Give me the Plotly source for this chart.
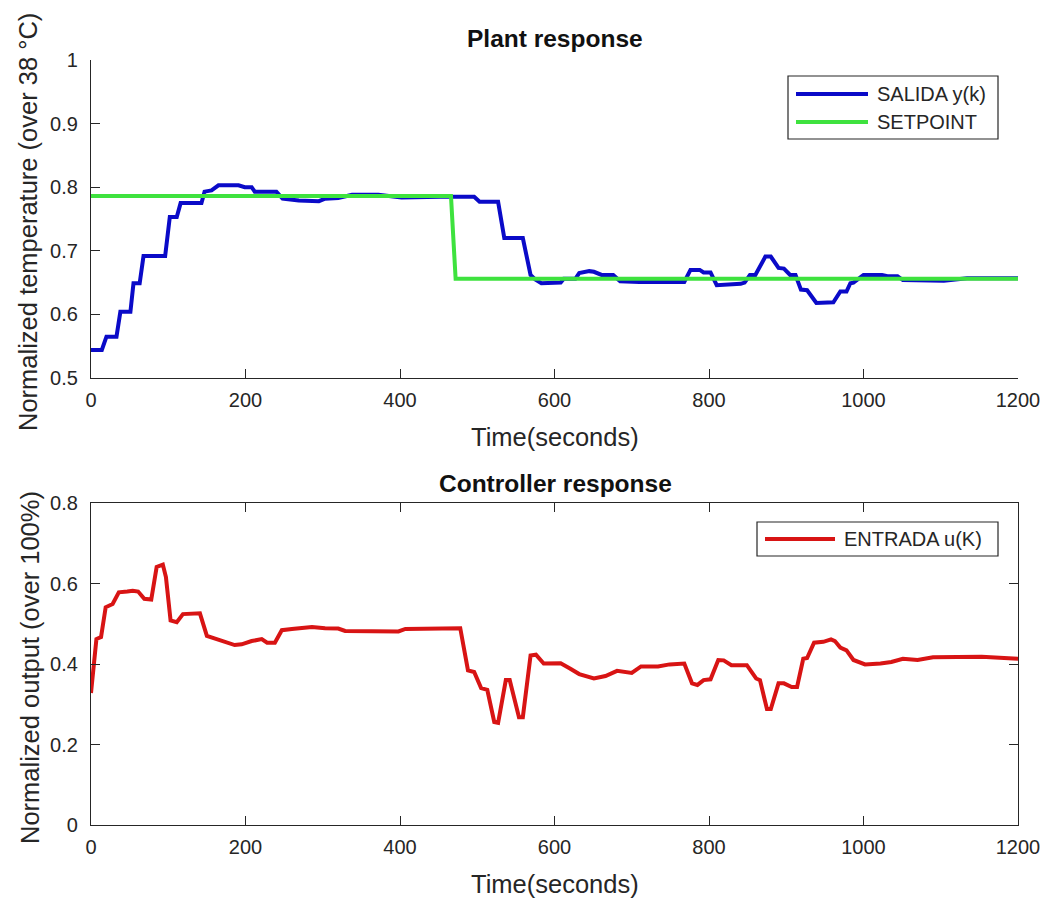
import plotly.graph_objects as go

# ---------------- data ----------------
t_salida = [0, 14, 20, 33, 38, 51, 55, 63, 68, 96, 102, 111, 116, 143, 147, 156, 165, 191,
            199, 208, 212, 240, 248, 269, 295, 303, 320, 338, 372, 402, 452, 496, 503, 527,
            535, 559, 569, 575, 583, 608, 612, 627, 632, 645, 651, 661, 676, 685, 710, 768,
            776, 788, 793, 802, 810, 841, 846, 853, 860, 873, 880, 890, 897, 905, 912, 919,
            927, 931, 939, 961, 970, 978, 983, 987, 1000, 1024, 1031, 1044, 1051, 1104, 1134, 1200]
y_salida = [0.544, 0.544, 0.565, 0.565, 0.604, 0.604, 0.649, 0.649, 0.692, 0.692, 0.753, 0.753,
            0.775, 0.775, 0.793, 0.795, 0.803, 0.803, 0.800, 0.800, 0.793, 0.793, 0.782, 0.779,
            0.778, 0.782, 0.783, 0.788, 0.788, 0.784, 0.785, 0.785, 0.777, 0.777, 0.720, 0.720,
            0.662, 0.655, 0.649, 0.650, 0.656, 0.656, 0.665, 0.668, 0.667, 0.662, 0.662, 0.652,
            0.651, 0.651, 0.670, 0.670, 0.666, 0.666, 0.646, 0.648, 0.650, 0.662, 0.662, 0.691,
            0.691, 0.673, 0.672, 0.662, 0.662, 0.639, 0.638, 0.631, 0.618, 0.619, 0.636, 0.636,
            0.649, 0.650, 0.662, 0.662, 0.660, 0.660, 0.654, 0.653, 0.657, 0.657]

t_setpoint = [0, 466, 472, 1200]
y_setpoint = [0.786, 0.786, 0.656, 0.656]

t_entrada = [0, 3, 7, 13, 19, 28, 36, 47, 54, 61, 69, 78, 85, 93, 97, 103, 111, 119, 141, 150,
             156, 169, 178, 186, 195, 208, 221, 228, 238, 247, 260, 273, 286, 303, 320, 329, 359,
             398, 407, 445, 478, 488, 496, 505, 513, 522, 527, 537, 542, 554, 559, 569, 576, 586,
             608, 620, 632, 651, 666, 681, 700, 712, 734, 749, 768, 778, 785, 793, 802, 812, 819,
             829, 849, 861, 866, 875, 880, 890, 897, 907, 914, 922, 927, 936, 948, 958, 963, 970,
             978, 987, 1002, 1022, 1036, 1051, 1070, 1090, 1114, 1153, 1182, 1200]
u_entrada = [0.328, 0.391, 0.462, 0.467, 0.541, 0.549, 0.578, 0.580, 0.582, 0.580, 0.562, 0.560,
             0.641, 0.647, 0.616, 0.508, 0.504, 0.524, 0.526, 0.470, 0.466, 0.459, 0.454, 0.447,
             0.449, 0.457, 0.462, 0.453, 0.453, 0.484, 0.487, 0.489, 0.492, 0.489, 0.488, 0.482,
             0.481, 0.481, 0.487, 0.488, 0.489, 0.384, 0.380, 0.340, 0.336, 0.256, 0.254, 0.360,
             0.360, 0.268, 0.268, 0.421, 0.423, 0.401, 0.402, 0.389, 0.375, 0.364, 0.370, 0.383,
             0.378, 0.394, 0.394, 0.399, 0.401, 0.352, 0.348, 0.360, 0.362, 0.410, 0.409, 0.397,
             0.397, 0.364, 0.360, 0.288, 0.288, 0.352, 0.352, 0.343, 0.343, 0.413, 0.415, 0.453,
             0.455, 0.461, 0.457, 0.441, 0.434, 0.410, 0.399, 0.401, 0.405, 0.413, 0.410, 0.417,
             0.418, 0.418, 0.415, 0.413]

x_ticks = [0, 200, 400, 600, 800, 1000, 1200]
y1_ticks = [0.5, 0.6, 0.7, 0.8, 0.9, 1]
y1_labels = ["0.5", "0.6", "0.7", "0.8", "0.9", "1"]
y2_ticks = [0, 0.2, 0.4, 0.6, 0.8]
y2_labels = ["0", "0.2", "0.4", "0.6", "0.8"]

# ---------------- style ----------------
W, H = 1048, 898
FONT = "Liberation Sans, Arial, Helvetica, sans-serif"
TXT = "#262626"
BLUE = "#0a0ac8"
GREEN = "#3ee23e"
RED = "#d81414"
LW = 4
TICKFS = 20
LABFS = 25.5
TITFS = 24.5
LEGFS = 20


def px(x):
    return x / W


def py(y):
    return 1 - y / H


fig = go.Figure()
fig.add_trace(go.Scatter(x=t_salida, y=y_salida, mode="lines", name="SALIDA y(k)",
                         line=dict(color=BLUE, width=LW), xaxis="x", yaxis="y", showlegend=False))
fig.add_trace(go.Scatter(x=t_setpoint, y=y_setpoint, mode="lines", name="SETPOINT",
                         line=dict(color=GREEN, width=LW), xaxis="x", yaxis="y", showlegend=False))
fig.add_trace(go.Scatter(x=t_entrada, y=u_entrada, mode="lines", name="ENTRADA u(K)",
                         line=dict(color=RED, width=LW), xaxis="x2", yaxis="y2", showlegend=False))

xdom = [px(91), px(1018)]
axis_common = dict(showline=True, linecolor=TXT, linewidth=1.2, ticks="inside", ticklen=9,
                   tickcolor=TXT, tickwidth=1.2, showgrid=False, zeroline=False, automargin=False,
                   tickfont=dict(family=FONT, size=TICKFS, color=TXT))

fig.update_layout(
    template="none",
    width=W, height=H, margin=dict(l=0, r=0, t=0, b=0),
    paper_bgcolor="white", plot_bgcolor="white", showlegend=False,
    font=dict(family=FONT, color=TXT),
    xaxis=dict(domain=xdom, range=[0, 1200], tickvals=x_ticks, anchor="y", ticklabelstandoff=4,
               **axis_common),
    yaxis=dict(domain=[py(378), py(60)], range=[0.5, 1], tickvals=y1_ticks, ticktext=y1_labels,
               anchor="x", ticklabelstandoff=8, **axis_common),
    xaxis2=dict(domain=xdom, range=[0, 1200], tickvals=x_ticks, anchor="y2", mirror="ticks",
                ticklabelstandoff=4, **axis_common),
    yaxis2=dict(domain=[py(825), py(503)], range=[0, 0.8], tickvals=y2_ticks, ticktext=y2_labels,
                anchor="x2", mirror="ticks", ticklabelstandoff=8, **axis_common),
)

annos = []
shapes = []


def text(x, y, s, size, angle=0, bold=False, xanchor="center"):
    annos.append(dict(x=px(x), y=py(y), xref="paper", yref="paper",
                      text=f"<b>{s}</b>" if bold else s, showarrow=False, textangle=angle,
                      xanchor=xanchor, yanchor="middle",
                      font=dict(family=FONT, size=size, color="#111111" if bold else TXT)))


# titles and axis labels
text(555, 38, "Plant response", TITFS, bold=True)
text(555, 483, "Controller response", TITFS, bold=True)
text(555, 437, "Time(seconds)", LABFS)
text(555, 884, "Time(seconds)", LABFS)
text(28, 222, "Normalized temperature (over 38 °C)", LABFS, angle=-90)
text(30, 668, "Normalized output (over 100%)", LABFS, angle=-90)


# custom legends (MATLAB style)
def legend_box(x0, y0, x1, y1):
    shapes.append(dict(type="rect", xref="paper", yref="paper", x0=px(x0), x1=px(x1),
                       y0=py(y1), y1=py(y0), line=dict(color=TXT, width=1.2), fillcolor="white",
                       layer="above"))


def legend_entry(xs0, xs1, y, color, s):
    shapes.append(dict(type="line", xref="paper", yref="paper", x0=px(xs0), x1=px(xs1),
                       y0=py(y), y1=py(y), line=dict(color=color, width=LW), layer="above"))
    text(xs1 + 7, y, s, LEGFS, xanchor="left")


legend_box(788, 76, 998, 139)
legend_entry(796, 868, 94, BLUE, "SALIDA y(k)")
legend_entry(796, 868, 122, GREEN, "SETPOINT")
legend_box(757, 522, 998, 556)
legend_entry(765, 835, 539, RED, "ENTRADA u(K)")

fig.update_layout(shapes=shapes, annotations=annos)
fig.write_html("out.html")
